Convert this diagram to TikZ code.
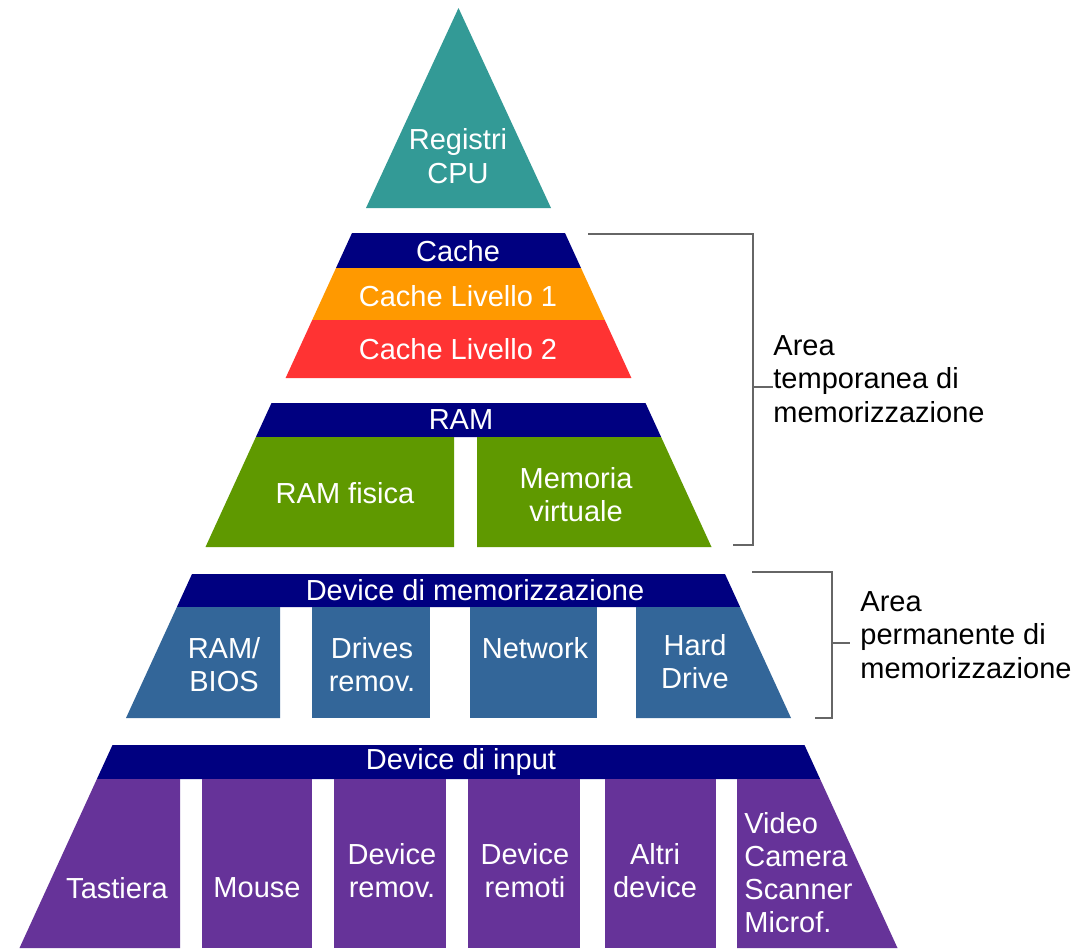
\documentclass[tikz,border=0pt]{standalone}
\usepackage{fontspec}
\setmainfont{Liberation Sans}
\definecolor{tealc}{HTML}{339A96}
\definecolor{navyc}{HTML}{000080}
\definecolor{orangec}{HTML}{FF9900}
\definecolor{redc}{HTML}{FF3333}
\definecolor{greenc}{HTML}{5F9900}
\definecolor{bluec}{HTML}{336699}
\definecolor{purplec}{HTML}{663399}
\definecolor{brk}{HTML}{666666}
\tikzset{
  wlab/.style={text=white, font=\fontsize{14.5}{16.5}\selectfont, inner sep=0pt, align=center},
  blab/.style={text=black, font=\fontsize{14.5}{16.8}\selectfont, inner sep=0pt, align=left, anchor=west},
  bracket/.style={draw=brk, line width=1.2pt},
}
\begin{document}
\begin{tikzpicture}[x=0.5pt,y=-0.5pt]
\useasboundingbox (0,0) rectangle (1091,950);
\fill[white] (0,0) rectangle (1091,950);
% top triangle
\fill[tealc] (366,208) -- (551,208) -- (458.5,8) -- cycle;
\node[wlab, font=\fontsize{14.5}{17}\selectfont] (reg) at (458,156) {Registri\\CPU};
% cache
\fill[navyc] (352,233) -- (565,233) -- (581,268) -- (336,268) -- cycle;
\fill[orangec] (336,268) -- (581,268) -- (604.8,320) -- (312.2,320) -- cycle;
\fill[redc] (312.2,320) -- (604.8,320) -- (631.4,378) -- (285.6,378) -- cycle;
\node[wlab] (cache) at (458,251) {Cache};
\node[wlab] (c1) at (458,296) {Cache Livello 1};
\node[wlab] (c2) at (458,349) {Cache Livello 2};
% RAM
\fill[navyc] (271.5,403) -- (645.5,403) -- (661.1,437) -- (255.9,437) -- cycle;
\fill[greenc] (255.9,437) -- (454,437) -- (454,547) -- (205.5,547) -- cycle;
\fill[greenc] (477,437) -- (661.1,437) -- (711.5,547) -- (477,547) -- cycle;
\node[wlab] (ram) at (461,420) {RAM};
\node[wlab] (ramf) at (345,493) {RAM fisica};
\node[wlab] (memv) at (576,495) {Memoria\\virtuale};
% storage devices
\fill[navyc] (192,574) -- (725,574) -- (740.1,607) -- (176.9,607) -- cycle;
\fill[bluec] (176.9,607) -- (280,607) -- (280,718) -- (126,718) -- cycle;
\fill[bluec] (312,607) rectangle (430,718);
\fill[bluec] (470,607) rectangle (597,718);
\fill[bluec] (636,607) -- (740.1,607) -- (791,718) -- (636,718) -- cycle;
\node[wlab] (devm) at (475,590) {Device di memorizzazione};
\node[wlab] (bios) at (224,665) {RAM/\\BIOS};
\node[wlab] (drv) at (372,665) {Drives\\remov.};
\node[wlab] (net) at (535,648) {Network};
\node[wlab] (hd) at (695,662) {Hard\\Drive};
% input devices
\fill[navyc] (112.5,745) -- (804.5,745) -- (820.1,779) -- (96.9,779) -- cycle;
\fill[purplec] (96.9,779) -- (180,779) -- (180,948) -- (19.5,948) -- cycle;
\fill[purplec] (202,779) rectangle (312,948);
\fill[purplec] (334,779) rectangle (446,948);
\fill[purplec] (468,779) rectangle (580,948);
\fill[purplec] (605,779) rectangle (716,948);
\fill[purplec] (737,779) -- (820.1,779) -- (897.5,948) -- (737,948) -- cycle;
\node[wlab] (devi) at (461,762) {Device di input};
\node[wlab] (tast) at (117,888) {Tastiera};
\node[wlab] (mouse) at (257,888) {Mouse};
\node[wlab] (drem) at (392,871) {Device\\remov.};
\node[wlab] (drmt) at (525,871) {Device\\remoti};
\node[wlab] (altri) at (655,871) {Altri\\device};
\node[wlab, align=left, anchor=west] (video) at (744,873) {Video\\Camera\\Scanner\\Microf.};
% bracket 1
\coordinate (b1a) at (588,234);
\coordinate (b1b) at (753,234);
\coordinate (b1c) at (753,545);
\coordinate (b1d) at (733,545);
\coordinate (b1m) at (753,387);
\node[blab] (t1) at (773,379) {Area\\temporanea di\\memorizzazione};
\draw[bracket] (b1a) -- (b1b) -- (b1c) -- (b1d);
\draw[bracket] (b1m) -- (t1.west |- b1m);
% bracket 2
\coordinate (b2a) at (752,572);
\coordinate (b2b) at (832,572);
\coordinate (b2c) at (832,718);
\coordinate (b2d) at (815,718);
\coordinate (b2m) at (832,643);
\node[blab] (t2) at (860,635) {Area\\permanente di\\memorizzazione};
\draw[bracket] (b2a) -- (b2b) -- (b2c) -- (b2d);
\draw[bracket] (b2m) -- ([xshift=-5pt]t2.west |- b2m);
\end{tikzpicture}
\end{document}
